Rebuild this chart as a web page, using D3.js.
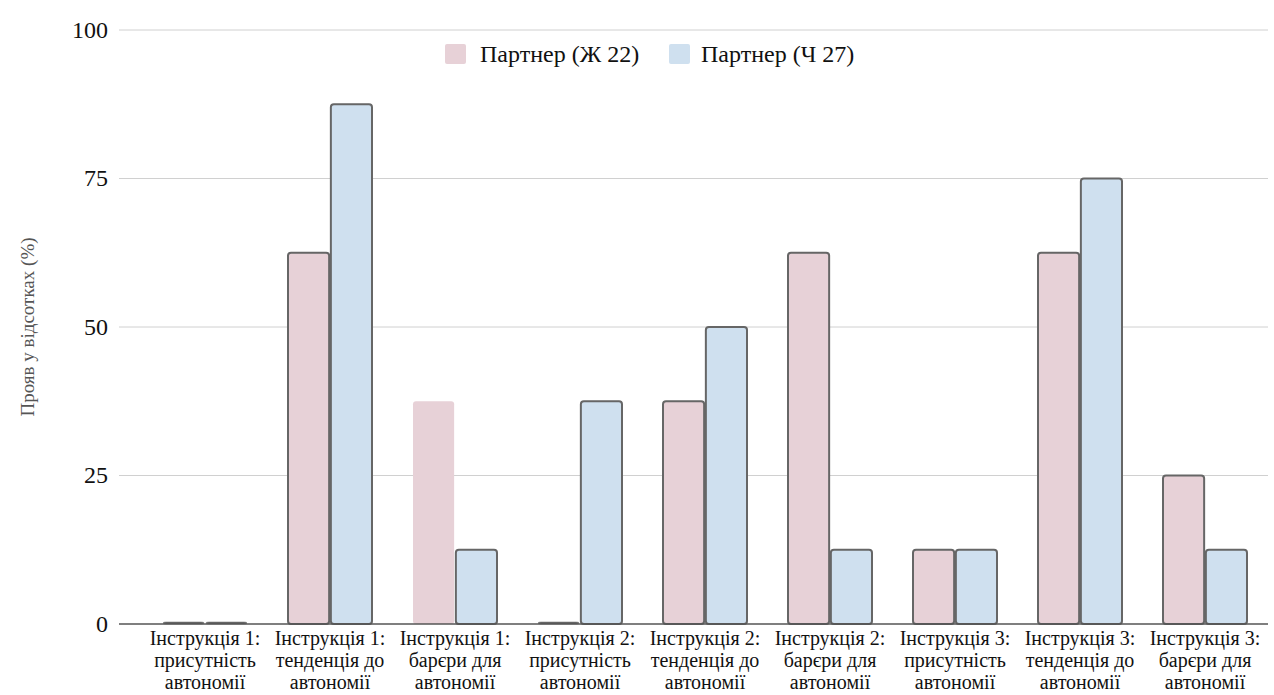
<!DOCTYPE html>
<html><head><meta charset="utf-8">
<script src="https://cdn.jsdelivr.net/npm/d3@7"></script>
<style>body{margin:0;background:#fff}svg{display:block}</style>
</head><body><svg id="c" width="1274" height="695" font-family="'Liberation Serif', 'Times New Roman', serif"></svg>
<script>
const categories = [
  ["Інструкція 1:", "присутність", "автономії"],
  ["Інструкція 1:", "тенденція до", "автономії"],
  ["Інструкція 1:", "барєри для", "автономії"],
  ["Інструкція 2:", "присутність", "автономії"],
  ["Інструкція 2:", "тенденція до", "автономії"],
  ["Інструкція 2:", "барєри для", "автономії"],
  ["Інструкція 3:", "присутність", "автономії"],
  ["Інструкція 3:", "тенденція до", "автономії"],
  ["Інструкція 3:", "барєри для", "автономії"]
];
const seriesNames = ["Партнер (Ж 22)", "Партнер (Ч 27)"];
const seriesW = [0, 62.5, 37.5, 0, 37.5, 62.5, 12.5, 62.5, 25];
const seriesM = [0, 87.5, 12.5, 37.5, 50, 12.5, 12.5, 75, 12.5];
const yTicks = [0, 25, 50, 75, 100];
const colors = ["#e7d1d7", "#cfe0ef"];
// bar drawn without outline (as in reference)
const noStroke = [[0,2]];

(function(){
const svg = d3.select("#c");
const L = 119, R = 1268, T = 30, B = 624;
const y = d3.scaleLinear().domain([0,100]).range([B, T]);
const x = d3.scaleBand().domain(d3.range(categories.length)).range([142.5, 1267.5]);
const x1 = d3.scaleBand().domain([0,1]).range([0, 84]).paddingInner(0.04);

svg.append("g").selectAll("line").data(yTicks.filter(t=>t>0)).join("line")
  .attr("x1", L).attr("x2", R).attr("y1", d=>y(d)).attr("y2", d=>y(d))
  .attr("stroke", "#d0d0d0").attr("stroke-width", 1);
svg.append("g").selectAll("text").data(yTicks).join("text")
  .attr("x", 108).attr("y", d=>y(d)).attr("dy","0.33em").attr("text-anchor","end")
  .attr("font-size", 24).attr("fill","#111").text(d=>d);

svg.append("text").attr("transform", `translate(27,${(T+B)/2}) rotate(-90)`)
  .attr("text-anchor","middle").attr("dy","0.35em").attr("font-size",19).attr("fill","#555")
  .text("Прояв у відсотках (%)");

const series = [seriesW, seriesM];
const g = svg.append("g");
series.forEach((vals, s) => {
  g.selectAll(null).data(vals).join("rect")
    .attr("x", (d,i)=> x(i) + x.bandwidth()/2 - 42 + x1(s))
    .attr("width", x1.bandwidth())
    .attr("y", d => d === 0 ? y(0) - 2 : y(d))
    .attr("height", d => d === 0 ? 2 : y(0) - y(d))
    .attr("rx", 3)
    .attr("fill", d => d === 0 ? "#666" : colors[s])
    .attr("stroke", (d,i) => noStroke.some(p=>p[0]===s && p[1]===i) ? "none" : "#666")
    .attr("stroke-width", d => d === 0 ? 0.5 : 2);
});

svg.append("line").attr("x1", L).attr("x2", R).attr("y1", y(0)).attr("y2", y(0))
  .attr("stroke","#555").attr("stroke-width",1.5);

const xl = svg.append("g").selectAll("text").data(categories).join("text")
  .attr("text-anchor","middle").attr("font-size",20).attr("fill","#111")
  .attr("transform", (d,i)=>`translate(${x(i)+x.bandwidth()/2},645)`);
xl.selectAll("tspan").data(d=>d).join("tspan")
  .attr("x",0).attr("y",(d,j)=>j*22).text(d=>d);

const legX = [445, 669];
const legT = [480, 701];
seriesNames.forEach((n,s)=>{
  svg.append("rect").attr("x", legX[s]).attr("y", 44).attr("width", 21).attr("height", 20)
    .attr("rx",2).attr("fill", colors[s]);
  svg.append("text").attr("x", legT[s]).attr("y", 54).attr("dy","0.33em")
    .attr("font-size",24).attr("fill","#111").text(n);
});
})();
</script></body></html>
